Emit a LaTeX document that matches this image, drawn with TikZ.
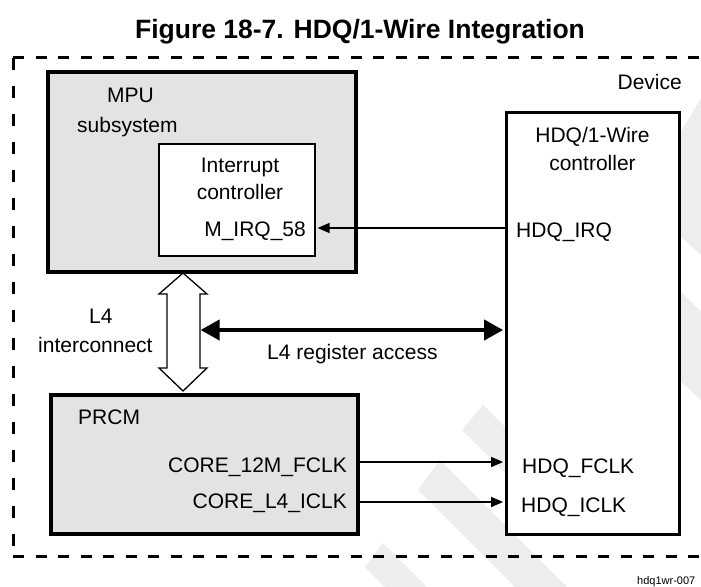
\documentclass[tikz,border=0pt]{standalone}
\usepackage{fontspec}
\setmainfont{Liberation Sans}
\usetikzlibrary{arrows.meta}
\begin{document}
\begin{tikzpicture}[x=1pt,y=-1pt,
  txt/.style={font=\fontsize{21}{25}\selectfont, inner sep=0pt},
  graybox/.style={draw=black, fill=black!11, line width=3.2pt, inner sep=0pt},
  whitebox/.style={draw=black, fill=white, line width=3pt, inner sep=0pt},
  innerbox/.style={draw=black, fill=white, line width=2.4pt, inner sep=0pt},
  thinarrow/.style={line width=1.3pt, -{Triangle[length=12pt,width=10pt]}, shorten >=1.4pt},
  busarrow/.style={line width=4pt, {Triangle[length=19pt,width=20pt]}-{Triangle[length=19pt,width=20pt]}, shorten >=1.4pt},
  hollow/.style={draw=black, fill=white, line width=1.3pt, line join=miter},
  devline/.style={line width=3pt},
  wmark/.style={fill=black!7, draw=none}]
\useasboundingbox (0,0) rectangle (701,586);
% watermark bands
\fill[wmark] (462,430) -- (483,405) -- (580,502) -- (559,527) -- cycle;
\fill[wmark] (418,490) -- (440,460) -- (580,600) -- (558,630) -- cycle;
\fill[wmark] (365,567) -- (383,543) -- (450,610) -- (432,634) -- cycle;
\fill[wmark] (679,135) -- (701,98) -- (701,255) -- (679,235) -- cycle;
\fill[wmark] (679,290) -- (701,312) -- (701,400) -- (679,380) -- cycle;
% device border
\draw[devline, dash pattern=on 11pt off 11.5pt] (13,58) -- (712,58);
\draw[devline, dash pattern=on 11pt off 11.5pt] (13,556) -- (712,556);
\draw[devline, dash pattern=on 12pt off 16pt] (13,58) -- (13,556);
\node[txt, anchor=base east] (device) at (682,89) {Device};
% title
\node[font=\bfseries\fontsize{26.5}{30}\selectfont, inner sep=0pt, anchor=base] (title) at (360,39) {Figure 18-7. HDQ/1-Wire Integration};
% boxes
\node[graybox, minimum width=308pt, minimum height=200pt] (mpu) at (202,172) {};
\node[innerbox, minimum width=156pt, minimum height=112pt] (intc) at (237,200) {};
\node[graybox, minimum width=307pt, minimum height=139pt] (prcm) at (204.5,464.5) {};
\node[whitebox, minimum width=173pt, minimum height=422pt] (hdq) at (592.5,323) {};
% labels
\node[txt, anchor=base west] (mpul1) at (107,102) {MPU};
\node[txt, anchor=base west] (mpul2) at (77,132) {subsystem};
\node[txt, anchor=base] (intl1) at (240,172) {Interrupt};
\node[txt, anchor=base] (intl2) at (240,199) {controller};
\node[txt, anchor=base east] (mirq) at (306,236) {M\_IRQ\_58};
\node[txt, anchor=base west] (l4a) at (89,323) {L4};
\node[txt, anchor=base west] (l4b) at (38,352) {interconnect};
\node[txt, anchor=base west] (l4reg) at (267,359) {L4 register access};
\node[txt, anchor=base west] (prcml) at (78,424) {PRCM};
\node[txt, anchor=base east] (fclk) at (347,472) {CORE\_12M\_FCLK};
\node[txt, anchor=base east] (iclk) at (347,508) {CORE\_L4\_ICLK};
\node[txt, anchor=base] (hdql1) at (592.5,142) {HDQ/1-Wire};
\node[txt, anchor=base] (hdql2) at (592.5,170) {controller};
\node[txt, anchor=base west] (hdqirq) at (516,237) {HDQ\_IRQ};
\node[txt, anchor=base west] (hdqf) at (522,473) {HDQ\_FCLK};
\node[txt, anchor=base west] (hdqi) at (521,512) {HDQ\_ICLK};
\node[font=\fontsize{11}{13}\selectfont, inner sep=0pt, anchor=base west] (fig) at (637,584) {hdq1wr-007};
% hollow L4 interconnect arrow
\coordinate (ht) at (183,273);
\coordinate (hb) at (183,391);
\draw[hollow] (ht) -- (207,294) -- (200,294) -- (200,368) -- (207,368) -- (hb)
  -- (159,368) -- (167,368) -- (167,294) -- (159,294) -- cycle;
% connectors
\coordinate (irqy) at (0,228);
\coordinate (busl) at (200,330);
\coordinate (fy) at (0,462);
\coordinate (iy) at (0,502);
\draw[thinarrow] (hdq.west |- irqy) -- (intc.east |- irqy);
\draw[busarrow, shorten <=0.6pt] (busl) -- (hdq.west |- busl);
\draw[thinarrow] (prcm.east |- fy) -- (hdq.west |- fy);
\draw[thinarrow] (prcm.east |- iy) -- (hdq.west |- iy);
\end{tikzpicture}
\end{document}
